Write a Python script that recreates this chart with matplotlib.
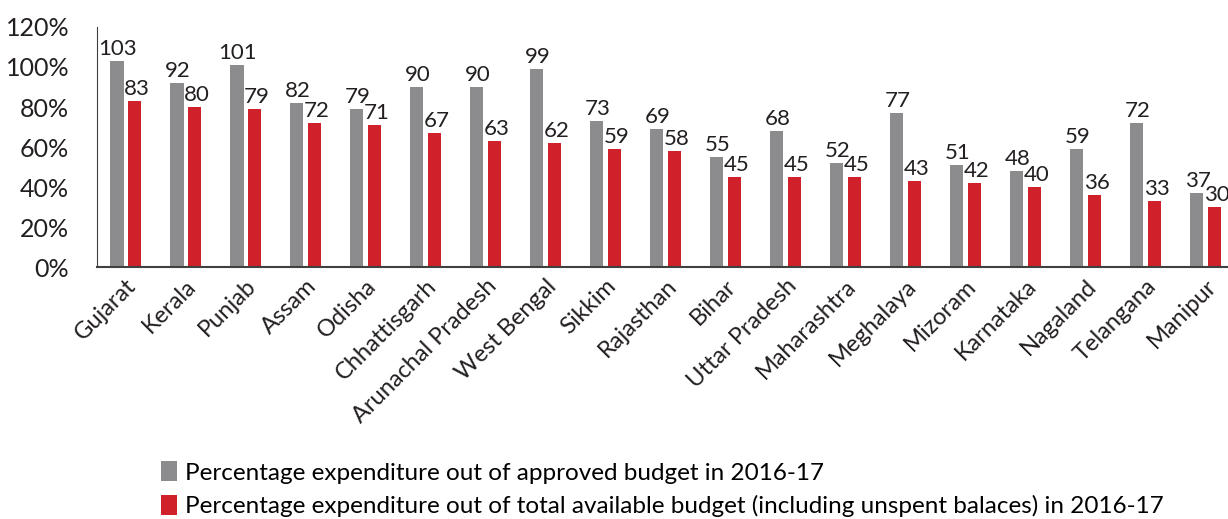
import matplotlib.pyplot as plt
import numpy as np

states = ['Gujarat', 'Kerala', 'Punjab', 'Assam', 'Odisha', 'Chhattisgarh',
          'Arunachal Pradesh', 'West Bengal', 'Sikkim', 'Rajasthan', 'Bihar',
          'Uttar Pradesh', 'Maharashtra', 'Meghalaya', 'Mizoram', 'Karnataka',
          'Nagaland', 'Telangana', 'Manipur']
approved = [103, 92, 101, 82, 79, 90, 90, 99, 73, 69, 55, 68, 52, 77, 51, 48, 59, 72, 37]
available = [83, 80, 79, 72, 71, 67, 63, 62, 59, 58, 45, 45, 45, 43, 42, 40, 36, 33, 30]

grey = '#8c8c8e'
red = '#d0202a'

plt.rcParams['font.family'] = ['Lato', 'DejaVu Sans']

fig = plt.figure(figsize=(12.28, 5.19), dpi=100)
ax = fig.add_axes([0.079, 0.4855, 0.921, 0.4625])

x = np.arange(len(states))
w = 0.225
off = 0.146
b1 = ax.bar(x - off, approved, w, color=grey,
            label='Percentage expenditure out of approved budget in 2016-17')
b2 = ax.bar(x + off, available, w, color=red,
            label='Percentage expenditure out of total available budget (including unspent balaces) in 2016-17')

for xi, v in zip(x, approved):
    ax.text(xi - off + 0.02, v + 1.2, str(v), ha='center', va='bottom', fontsize=16, color='#231f20')
for xi, v in zip(x, available):
    ax.text(xi + off + 0.04, v + 1.2, str(v), ha='center', va='bottom', fontsize=16, color='#231f20')

ax.set_xlim(-0.475, 18.375)
ax.set_ylim(0, 120)
ax.set_yticks(range(0, 121, 20))
ax.set_yticklabels([f'{t}%' for t in range(0, 121, 20)], fontsize=18, color='#231f20')
ax.set_xticks(x)
ax.set_xticklabels(states, rotation=45, ha='right', rotation_mode='anchor',
                   fontsize=17, color='#231f20')
ax.tick_params(axis='y', length=0, pad=20)
ax.tick_params(axis='x', length=0, pad=6)
for s in ['top', 'right']:
    ax.spines[s].set_visible(False)
ax.spines['left'].set_color('#404040')
ax.spines['bottom'].set_color('#404040')
ax.spines['bottom'].set_linewidth(1.5)

fig.legend(handles=[b1, b2], loc='upper left', bbox_to_anchor=(0.123, 0.13),
           frameon=False, fontsize=17.5,
           handlelength=0.65, handleheight=0.9, handletextpad=0.35,
           labelspacing=0.45, borderaxespad=0)

fig.savefig('out.png', dpi=100)
